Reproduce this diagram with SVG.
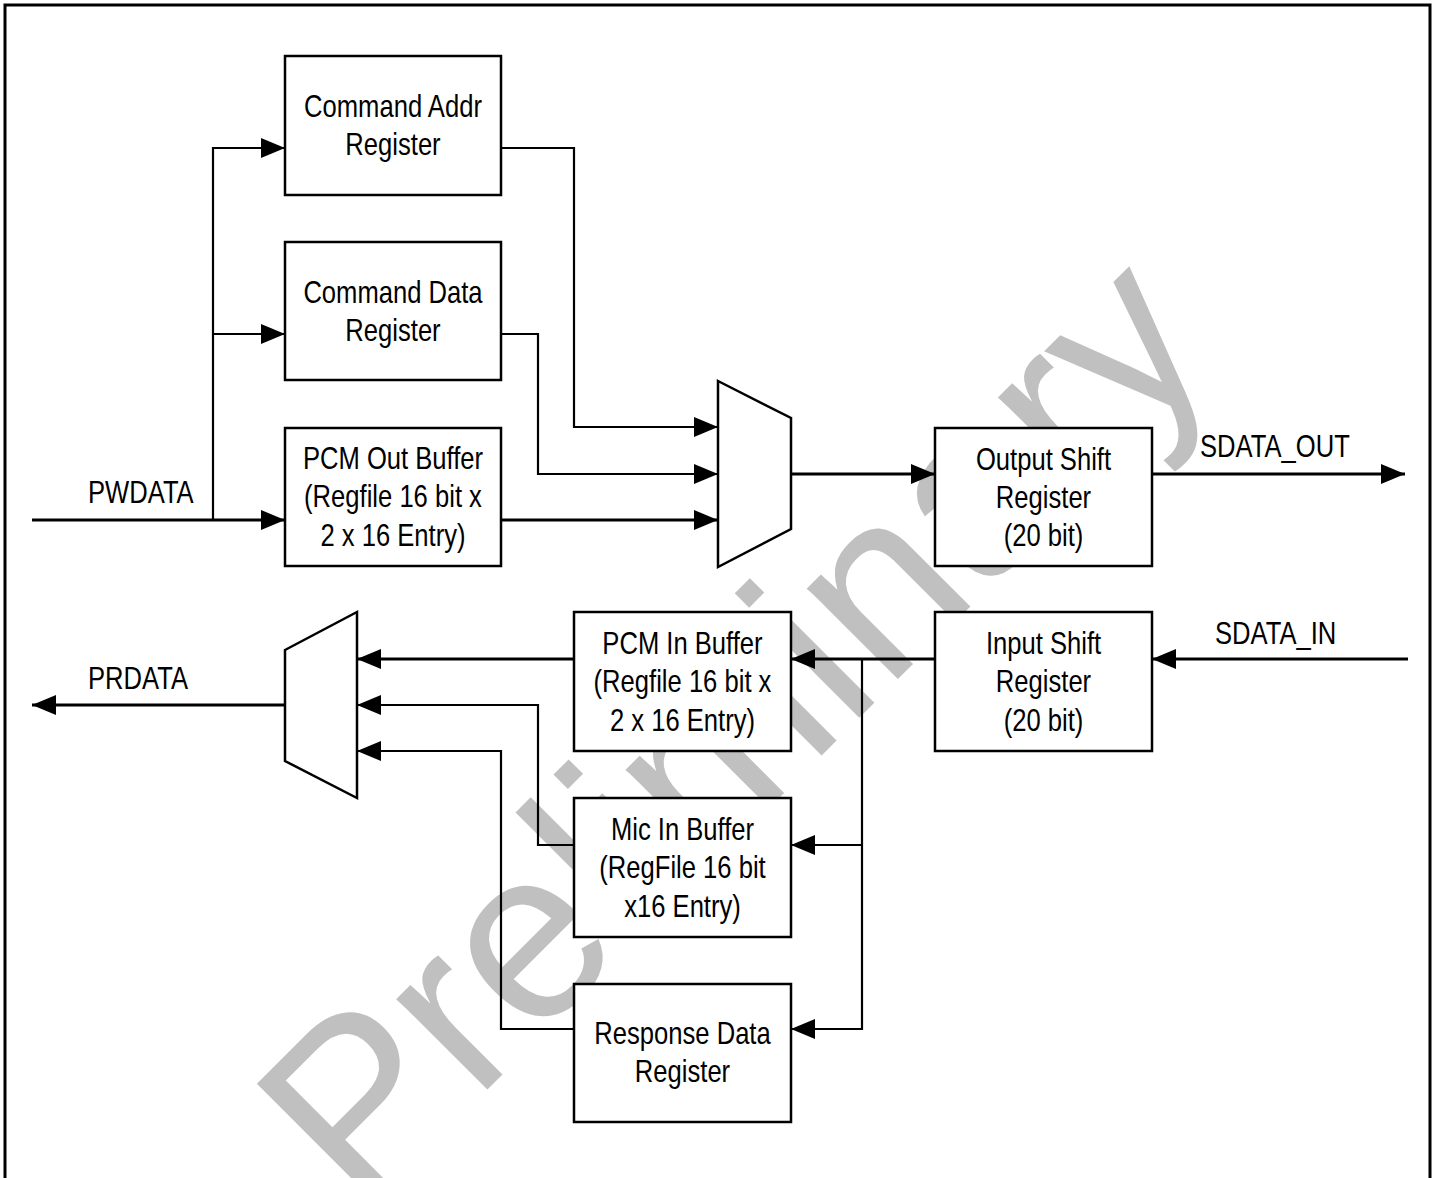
<svg xmlns="http://www.w3.org/2000/svg" width="1436" height="1178" viewBox="0 0 1436 1178">
<style>
.box{fill:#fff;stroke:#000;stroke-width:2.5}
.mux{fill:#fff;stroke:#000;stroke-width:2.5;stroke-linejoin:miter}
.w{fill:none;stroke:#000;stroke-width:2.2}
.t{fill:none;stroke:#000;stroke-width:3}
.lbl{font-family:"Liberation Sans",Arial,sans-serif;font-size:32px;fill:#000}
.c{text-anchor:middle}
.wm{font-family:"Liberation Sans",Arial,sans-serif;font-size:243px;fill:#c0c0c0}
</style>
<defs>
<marker id="ah" markerUnits="userSpaceOnUse" markerWidth="24" markerHeight="20" refX="24" refY="10" orient="auto" overflow="visible">
<path d="M0,0 L24,10 L0,20 Z" fill="#000"/>
</marker>
</defs>
<rect x="0" y="0" width="1436" height="1178" fill="#fff"/>
<text class="wm" x="361" y="1216" transform="rotate(-45 361 1216)">Preliminary</text>
<rect x="5" y="5" width="1425" height="1200" fill="none" stroke="#000" stroke-width="3"/>
<g id="connectors">
<path class="t" d="M32,520 H285" marker-end="url(#ah)"/>
<path class="w" d="M213,520 V148 H285" marker-end="url(#ah)"/>
<path class="w" d="M213,334 H285" marker-end="url(#ah)"/>
<path class="w" d="M501,148 H574 V427 H718" marker-end="url(#ah)"/>
<path class="w" d="M501,334 H538 V474 H718" marker-end="url(#ah)"/>
<path class="t" d="M501,520 H718" marker-end="url(#ah)"/>
<path class="t" d="M791,474 H935" marker-end="url(#ah)"/>
<path class="t" d="M1152,474 H1405" marker-end="url(#ah)"/>
<path class="t" d="M1408,659 H1152" marker-end="url(#ah)"/>
<path class="t" d="M935,659 H791" marker-end="url(#ah)"/>
<path class="w" d="M862,659 V1029 H791" marker-end="url(#ah)"/>
<path class="w" d="M862,845 H791" marker-end="url(#ah)"/>
<path class="t" d="M574,659 H357" marker-end="url(#ah)"/>
<path class="w" d="M574,845 H538 V705 H357" marker-end="url(#ah)"/>
<path class="w" d="M574,1029 H501 V751 H357" marker-end="url(#ah)"/>
<path class="t" d="M285,705 H32" marker-end="url(#ah)"/>
</g>
<g id="cmd_addr">
<rect class="box" x="285" y="56" width="216" height="139"/>
<g transform="translate(393,0) scale(0.8,1)"><text class="lbl c" x="0" y="117">Command Addr</text><text class="lbl c" x="0" y="155">Register</text></g>
</g>
<g id="cmd_data">
<rect class="box" x="285" y="242" width="216" height="138"/>
<g transform="translate(393,0) scale(0.8,1)"><text class="lbl c" x="0" y="303">Command Data</text><text class="lbl c" x="0" y="341">Register</text></g>
</g>
<g id="pcm_out">
<rect class="box" x="285" y="428" width="216" height="138"/>
<g transform="translate(393,0) scale(0.8,1)"><text class="lbl c" x="0" y="469">PCM Out Buffer</text><text class="lbl c" x="0" y="507">(Regfile 16 bit x</text><text class="lbl c" x="0" y="546">2 x 16 Entry)</text></g>
</g>
<g id="mux_out">
<polygon class="mux" points="718,381 791,418 791,529 718,567"/>
</g>
<g id="out_shift">
<rect class="box" x="935" y="428" width="217" height="138"/>
<g transform="translate(1043.5,0) scale(0.8,1)"><text class="lbl c" x="0" y="470">Output Shift</text><text class="lbl c" x="0" y="508">Register</text><text class="lbl c" x="0" y="546">(20 bit)</text></g>
</g>
<g id="in_shift">
<rect class="box" x="935" y="612" width="217" height="139"/>
<g transform="translate(1043.5,0) scale(0.8,1)"><text class="lbl c" x="0" y="654">Input Shift</text><text class="lbl c" x="0" y="692">Register</text><text class="lbl c" x="0" y="731">(20 bit)</text></g>
</g>
<g id="pcm_in">
<rect class="box" x="574" y="612" width="217" height="139"/>
<g transform="translate(682.5,0) scale(0.8,1)"><text class="lbl c" x="0" y="654">PCM In Buffer</text><text class="lbl c" x="0" y="692">(Regfile 16 bit x</text><text class="lbl c" x="0" y="731">2 x 16 Entry)</text></g>
</g>
<g id="mic_in">
<rect class="box" x="574" y="798" width="217" height="139"/>
<g transform="translate(682.5,0) scale(0.8,1)"><text class="lbl c" x="0" y="840">Mic In Buffer</text><text class="lbl c" x="0" y="878">(RegFile 16 bit</text><text class="lbl c" x="0" y="917">x16 Entry)</text></g>
</g>
<g id="resp_data">
<rect class="box" x="574" y="984" width="217" height="138"/>
<g transform="translate(682.5,0) scale(0.8,1)"><text class="lbl c" x="0" y="1044">Response Data</text><text class="lbl c" x="0" y="1082">Register</text></g>
</g>
<g id="mux_in">
<polygon class="mux" points="285,650 357,612 357,798 285,761"/>
</g>
<g id="labels">
<g transform="translate(88,0) scale(0.8,1)"><text class="lbl" x="0" y="503">PWDATA</text></g>
<g transform="translate(88,0) scale(0.8,1)"><text class="lbl" x="0" y="689">PRDATA</text></g>
<g transform="translate(1200,0) scale(0.8,1)"><text class="lbl" x="0" y="457">SDATA_OUT</text></g>
<g transform="translate(1215,0) scale(0.8,1)"><text class="lbl" x="0" y="644">SDATA_IN</text></g>
</g>
</svg>
